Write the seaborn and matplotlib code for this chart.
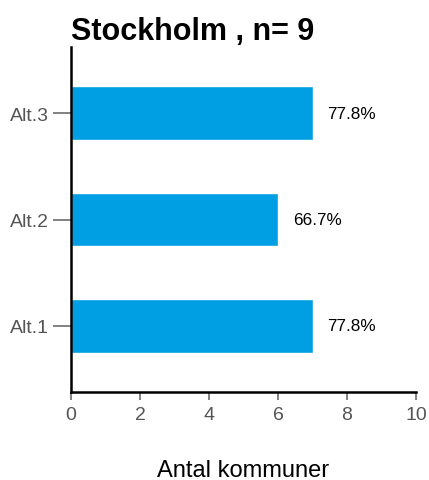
import matplotlib
matplotlib.use("Agg")
import matplotlib.pyplot as plt
import seaborn as sns
import pandas as pd

# values
categories = ["Alt.3", "Alt.2", "Alt.1"]
counts = [7, 6, 7]
pct_labels = ["77.8%", "66.7%", "77.8%"]
title = "Stockholm , n= 9"
xlabel = "Antal kommuner"
xticks = [0, 2, 4, 6, 8, 10]

sns.set_style("white")
plt.rcParams["font.family"] = ["Liberation Sans", "DejaVu Sans"]

df = pd.DataFrame({"alt": categories, "n": counts})

fig = plt.figure(figsize=(4.29, 4.81), dpi=100)
ax = fig.add_axes([71 / 429, 88 / 481, 345 / 429, 345 / 481])

sns.barplot(data=df, x="n", y="alt", order=categories, color="#009FE3",
            saturation=1, width=0.5, ax=ax)

# percentage labels to the right of each bar
for i, (v, lab) in enumerate(zip(counts, pct_labels)):
    ax.annotate(lab, (v, i), xytext=(15, 0), textcoords="offset pixels",
                va="center", ha="left", fontsize=12.3, color="black")

ax.set_xlim(0, 10)
ax.set_ylim(2.62, -0.62)
ax.set_xticks(xticks)
ax.set_xlabel(xlabel, fontsize=17, labelpad=26, color="black")
ax.set_ylabel("")
ax.set_title(title, fontsize=22, fontweight="bold", loc="left", pad=5.5,
             x=0, color="black")

for side in ["top", "right"]:
    ax.spines[side].set_visible(False)
for side in ["left", "bottom"]:
    ax.spines[side].set_color("black")
    ax.spines[side].set_linewidth(1.8)

ax.tick_params(axis="x", length=6, width=1.3, color="#777777",
               labelcolor="#555555", labelsize=14, pad=4, bottom=True)
ax.tick_params(axis="y", length=13, width=1.3, color="#777777",
               labelcolor="#555555", labelsize=14, pad=3, left=True)

fig.savefig("out.png", dpi=100)
